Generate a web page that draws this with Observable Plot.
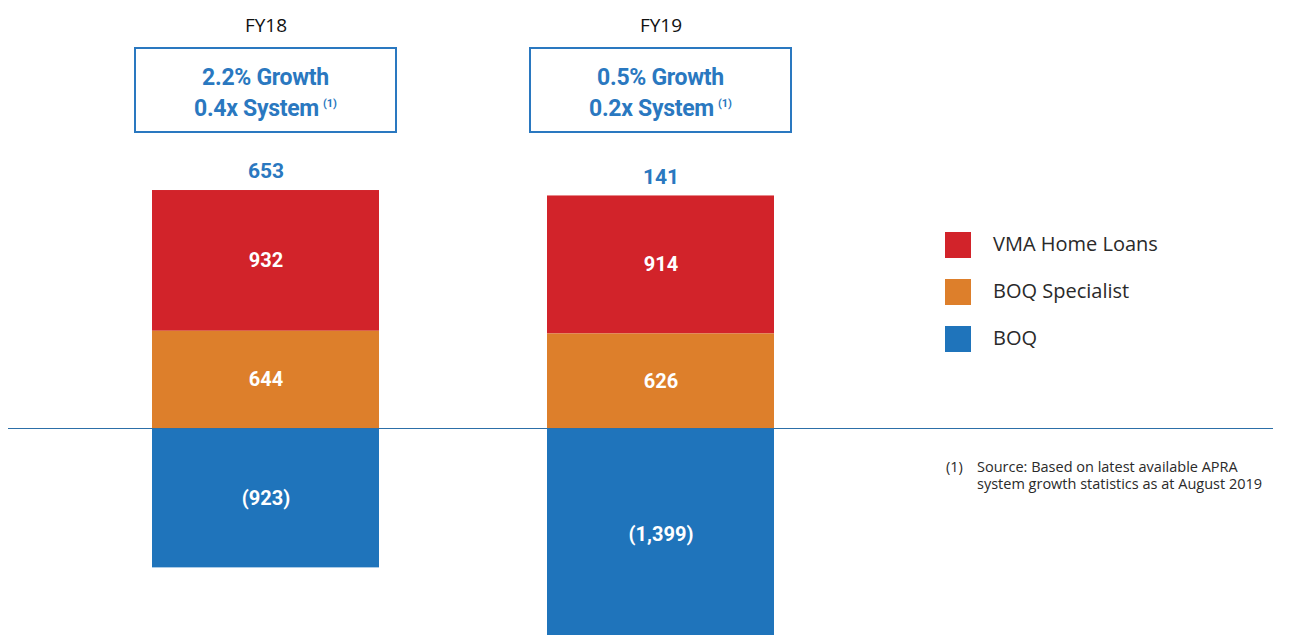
<!DOCTYPE html>
<html><head><meta charset="utf-8">
<script src="https://cdn.jsdelivr.net/npm/d3@7"></script>
<script src="https://cdn.jsdelivr.net/npm/@observablehq/plot@0.6"></script>
<style>
html,body{margin:0;padding:0;background:#fff;overflow:hidden;}
#wrap{position:relative;width:1291px;height:635px;}
.box{position:absolute;top:47px;width:259px;height:82px;border:2px solid #2a78c0;box-sizing:content-box;text-align:center;color:#2a78c0;font-family:Roboto,sans-serif;font-weight:700;font-size:23px;line-height:31px;letter-spacing:-0.3px;}
.box .l1{margin-top:13px;}
.box sup{font-size:11px;line-height:0;vertical-align:9px;margin-left:4px;letter-spacing:0;}
.leg{position:absolute;left:945px;font-family:"Open Sans",sans-serif;font-weight:400;font-size:20px;color:#2a2a2a;}
.leg .sw{position:absolute;left:0;width:26px;height:26px;}
.leg .lb{position:absolute;left:48px;top:-1px;white-space:nowrap;line-height:26px;}
.foot{position:absolute;left:946px;top:458px;font-family:"Open Sans",sans-serif;font-weight:400;font-size:14.5px;line-height:17px;color:#2a2a2a;}
.foot .n{position:absolute;left:0;top:0;}
.foot .t{position:absolute;left:31px;top:0;white-space:nowrap;}
</style>
</head><body><div id="wrap"></div>
<script>
const years = ["FY18", "FY19"];
const seriesNames = ["VMA Home Loans", "BOQ Specialist", "BOQ"];
const vmaHomeLoans = [932, 914];
const boqSpecialist = [644, 626];
const boq = [-923, -1399];
const growthText = ["2.2% Growth", "0.5% Growth"];
const systemText = ["0.4x System", "0.2x System"];
const footnoteMarker = "(1)";
const footnoteLines = ["Source: Based on latest available APRA", "system growth statistics as at August 2019"];
const colors = ["#d2232a", "#dd7f2b", "#1f74bb"];

const seriesValues = [vmaHomeLoans, boqSpecialist, boq];
const rows = [];
years.forEach((yr, i) => seriesNames.forEach((s, j) => rows.push({year: yr, series: s, value: seriesValues[j][i]})));
const totals = years.map((yr, i) => ({
  year: yr,
  top: seriesValues.reduce((a, v) => a + Math.max(0, v[i]), 0),
  net: seriesValues.reduce((a, v) => a + v[i], 0)
}));
const fmt = v => v < 0 ? "(" + d3.format(",")(-v) + ")" : d3.format(",")(v);
const stackOrder = ["BOQ", "BOQ Specialist", "VMA Home Loans"];

const plot = Plot.plot({
  width: 1291, height: 635,
  marginTop: 0, marginBottom: 0, marginLeft: 8, marginRight: 18,
  style: {background: "transparent", overflow: "hidden"},
  x: {type: "band", domain: years, range: [-16, 942], padding: 0.4253, axis: null},
  y: {domain: [-1500, 2000], range: [654.5, 126], axis: null},
  color: {domain: seriesNames, range: colors},
  marks: [
    Plot.barY(rows, Plot.stackY({x: "year", y: "value", z: "series", fill: "series", order: stackOrder})),
    Plot.ruleY([0], {stroke: "#2c6fa8", strokeWidth: 1.2}),
    Plot.text(rows, Plot.stackY({x: "year", y: "value", z: "series", order: stackOrder, text: d => fmt(d.value), fill: "white", fontSize: 20, fontWeight: "bold", fontFamily: "Roboto, sans-serif"})),
    Plot.text(totals, {x: "year", y: "top", text: d => fmt(d.net), dy: -19, fill: "#2a78c0", fontSize: 21, fontWeight: "bold", fontFamily: "Roboto, sans-serif"}),
    Plot.text(years, {x: d => d, frameAnchor: "top", dy: 18, text: d => d, fill: "#111", fontSize: 19, fontFamily: "'Open Sans', sans-serif"})
  ]
});
const wrap = document.getElementById("wrap");
wrap.appendChild(plot);

const xs = plot.scale("x");
years.forEach((yr, i) => {
  const cx = xs.apply(yr) + xs.bandwidth / 2;
  const b = document.createElement("div");
  b.className = "box";
  b.style.left = (cx - 131.5) + "px";
  b.innerHTML = `<div class="l1">${growthText[i]}</div><div>${systemText[i]}<sup>${footnoteMarker}</sup></div>`;
  wrap.appendChild(b);
});
const legTops = [232, 279, 326];
seriesNames.forEach((s, j) => {
  const d = document.createElement("div");
  d.className = "leg";
  d.style.top = legTops[j] + "px";
  d.innerHTML = `<div class="sw" style="background:${colors[j]}"></div><div class="lb">${s}</div>`;
  wrap.appendChild(d);
});
const f = document.createElement("div");
f.className = "foot";
f.innerHTML = `<div class="n">${footnoteMarker}</div><div class="t">${footnoteLines.join("<br>")}</div>`;
wrap.appendChild(f);
</script></body></html>
